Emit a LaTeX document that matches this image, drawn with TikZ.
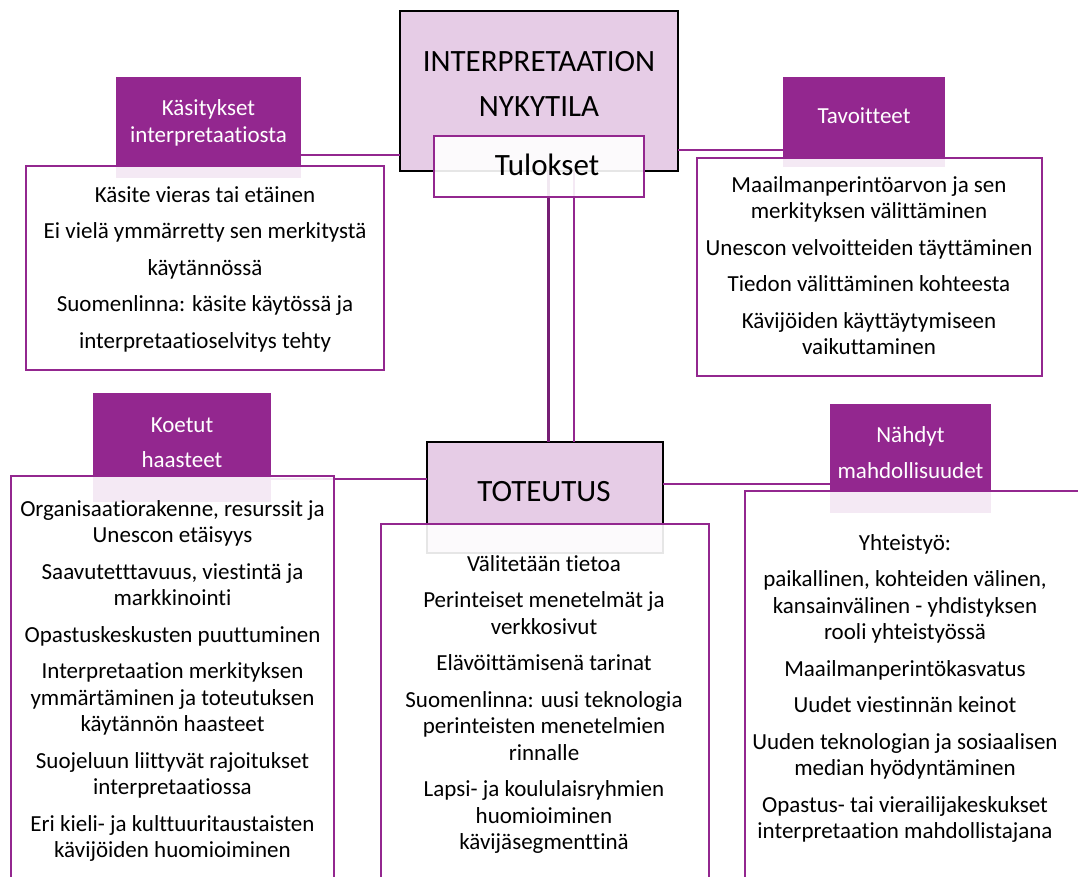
\documentclass[tikz,border=0pt]{standalone}
\usepackage{fontspec}
\setmainfont{Carlito}[Ligatures=NoCommon]
\definecolor{plum}{RGB}{147,39,143}
\definecolor{plumdark}{RGB}{118,30,116}
\definecolor{lilac}{RGB}{230,204,230}
% invisible strut that fixes the top of the first line above its baseline
\newcommand\lift[1]{\rule{0pt}{#1}}
\begin{document}
\begin{tikzpicture}[x=1pt,y=-1pt,
  frame/.style={rectangle, anchor=north west, inner sep=0pt, outer sep=0pt},
  headbox/.style={frame, draw=black, line width=2.5pt, fill=lilac},
  tagbox/.style={frame, fill=plum},
  listbox/.style={frame, draw=plum, line width=2pt, fill=white, fill opacity=0.9},
  link/.style={draw=plum, line width=2pt},
  bodytext/.style={align=center, inner sep=0pt, anchor=north, text=black,
    font=\fontsize{23}{26.5}\selectfont},
  tagtext/.style={bodytext, text=white},
  headtext/.style={align=center, inner sep=0pt, anchor=north, text=black,
    font=\fontsize{31}{37}\selectfont}]

\useasboundingbox (0,0) rectangle (1078,877);
\clip (0,0) rectangle (1078,877);

% main boxes
\node[headbox, minimum width=278pt, minimum height=160pt] (main) at (400,11) {};
\node[headbox, minimum width=236pt, minimum height=111pt] (tot) at (427,442) {};

% purple heading tabs
\node[tagbox, minimum width=185pt, minimum height=101pt] (tagA) at (116,77) {};
\node[tagbox, minimum width=162pt, minimum height=90pt]  (tagB) at (783,77) {};
\node[tagbox, minimum width=178pt, minimum height=109pt] (tagC) at (93,393) {};
\node[tagbox, minimum width=161pt, minimum height=109pt] (tagD) at (830,404) {};

% connector heights
\coordinate (yA) at (0,155);
\coordinate (yB) at (0,150);
\coordinate (yC) at (0,479);
\coordinate (yD) at (0,484);
\coordinate (xL) at (548,0);
\coordinate (xR) at (574,0);

% connectors
\draw[link] (tagA.east |- yA) -- (main.west |- yA);
\draw[link] (main.east |- yB) -- (tagB.west |- yB);
\draw[link] (tagC.east |- yC) -- (tot.west |- yC);
\draw[link] (tot.east |- yD) -- (tagD.west |- yD);
\draw[draw=plumdark, line width=3pt] (main.south -| xL) -- (tot.north -| xL);
\draw[draw=plum, line width=2.5pt] (main.south -| xR) -- (tot.north -| xR);

% list boxes
\node[listbox, minimum width=358pt, minimum height=204pt] (listA) at (26,166) {};
\node[listbox, minimum width=345pt, minimum height=218pt] (listB) at (697,158) {};
\node[listbox, minimum width=328pt, minimum height=400pt] (listT) at (381,524) {};
\node[listbox, minimum width=323pt, minimum height=450pt] (listC) at (11,476) {};
\node[listbox, minimum width=360pt, minimum height=430pt] (listD) at (745,491) {};
\node[listbox, minimum width=210pt, minimum height=61pt]  (res) at (434,136) {};

% headings
\node[headtext] (mainT) at (539,44) {\lift{27pt}INTERPRETAATION\\[8pt]NYKYTILA};
\node[headtext] (resT) at (547,148) {\lift{27pt}Tulokset};
\node[headtext] (totT) at (544,474) {\lift{27pt}TOTEUTUS};

\node[tagtext] (tagAT) at (208.5,95) {\lift{20pt}Käsitykset\\[0.5pt]interpretaatiosta};
\node[tagtext] (tagBT) at (864,103) {\lift{20pt}Tavoitteet};
\node[tagtext] (tagCT) at (182,412) {\lift{20pt}Koetut\\[8.5pt]haasteet};
\node[tagtext] (tagDT) at (910.5,422) {\lift{20pt}Nähdyt\\[9.5pt]mahdollisuudet};

% list texts
\node[bodytext] (listAT) at (205,182) {\lift{20pt}Käsite vieras tai etäinen\\[10pt]
  Ei vielä ymmärretty sen merkitystä\\[10pt]
  käytännössä\\[10pt]
  Suomenlinna: käsite käytössä ja\\[10pt]
  interpretaatioselvitys tehty};

\node[bodytext] (listBT) at (869,172) {\lift{20pt}Maailmanperintöarvon ja sen\\
  merkityksen välittäminen\\[10pt]
  Unescon velvoitteiden täyttäminen\\[10pt]
  Tiedon välittäminen kohteesta\\[10pt]
  Kävijöiden käyttäytymiseen\\
  vaikuttaminen};

\node[bodytext] (listTT) at (544,551) {\lift{20pt}Välitetään tietoa\\[10pt]
  Perinteiset menetelmät ja\\
  verkkosivut\\[10pt]
  Elävöittämisenä tarinat\\[10pt]
  Suomenlinna: uusi teknologia\\
  perinteisten menetelmien\\
  rinnalle\\[10pt]
  Lapsi- ja koululaisryhmien\\
  huomioiminen\\
  kävijäsegmenttinä};

\node[bodytext] (listCT) at (172.5,496) {\lift{20pt}Organisaatiorakenne, resurssit ja\\
  Unescon etäisyys\\[10pt]
  Saavutetttavuus, viestintä ja\\
  markkinointi\\[10pt]
  Opastuskeskusten puuttuminen\\[10pt]
  Interpretaation merkityksen\\
  ymmärtäminen ja toteutuksen\\
  käytännön haasteet\\[10pt]
  Suojeluun liittyvät rajoitukset\\
  interpretaatiossa\\[10pt]
  Eri kieli- ja kulttuuritaustaisten\\
  kävijöiden huomioiminen};

\node[bodytext] (listDT) at (905,530) {\lift{20pt}Yhteistyö:\\[10pt]
  paikallinen, kohteiden välinen,\\
  kansainvälinen - yhdistyksen\\
  rooli yhteistyössä\\[10pt]
  Maailmanperintökasvatus\\[10pt]
  Uudet viestinnän keinot\\[10pt]
  Uuden teknologian ja sosiaalisen\\
  median hyödyntäminen\\[10pt]
  Opastus- tai vierailijakeskukset\\
  interpretaation mahdollistajana};
\end{tikzpicture}
\end{document}
